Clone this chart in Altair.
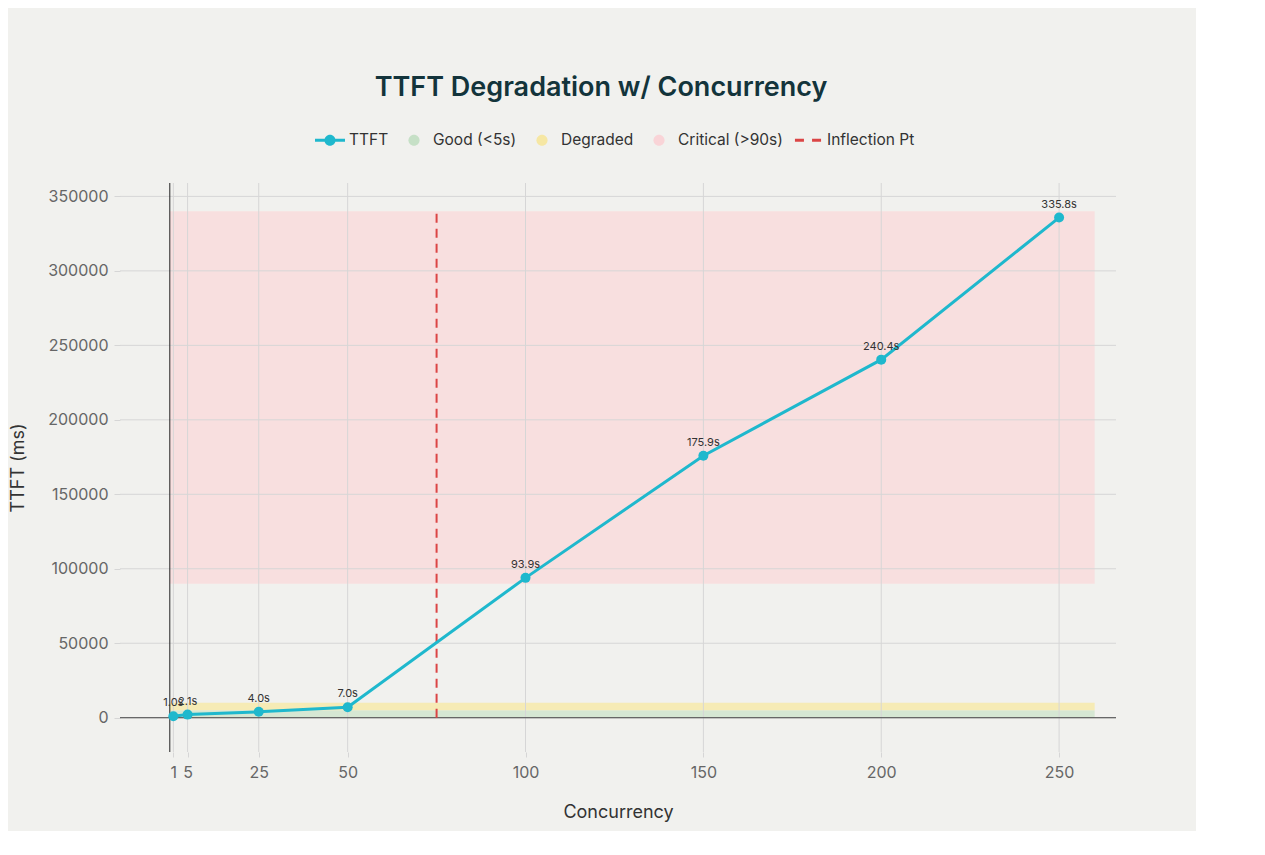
import altair as alt
import pandas as pd

# ---- data ----
concurrency = [1, 5, 25, 50, 100, 150, 200, 250]
ttft_ms = [1000, 2100, 4000, 7000, 93900, 175900, 240400, 335800]
point_labels = ["1.0s", "2.1s", "4.0s", "7.0s", "93.9s", "175.9s", "240.4s", "335.8s"]

zone_names = ["Good (<5s)", "Degraded", "Critical (>90s)"]
zone_y0 = [0, 5000, 90000]
zone_y1 = [5000, 10000, 340000]
zone_x0 = [0, 0, 0]
zone_x1 = [260, 260, 260]

inflection_x = [75]
inflection_y0 = [0]
inflection_y1 = [340000]

x_ticks = [1, 5, 25, 50, 100, 150, 200, 250]
y_ticks = [0, 50000, 100000, 150000, 200000, 250000, 300000, 350000]

legend_names = ["TTFT", "Good (<5s)", "Degraded", "Critical (>90s)", "Inflection Pt"]

# ---- styles ----
zone_colors = ["#d6e7d3", "#f6ebb5", "#f8dfdf"]
legend_colors = ["#1FB8CD", "#c6e0c6", "#f6e7a3", "#f9d4d7", "#DB4545"]
circle = "M-0.37,0a0.37,0.37 0 1,1 0.74,0a0.37,0.37 0 1,1 -0.74,0Z"
legend_shapes = [
    "M-1,-0.1H1V0.1H-1Z M-0.37,0a0.37,0.37 0 1,1 0.74,0a0.37,0.37 0 1,1 -0.74,0Z",
    circle, circle, circle,
    "M-0.87,-0.1H-0.27V0.1H-0.87Z M0.27,-0.1H0.87V0.1H0.27Z",
]
FONT = "Inter"
GRID = "#d6d6d6"

df = pd.DataFrame({"concurrency": concurrency, "ttft": ttft_ms, "label": point_labels})
zones = pd.DataFrame({"zone": zone_names, "x0": zone_x0, "x1": zone_x1, "y0": zone_y0, "y1": zone_y1})
infl = pd.DataFrame({"x": inflection_x, "y0": inflection_y0, "y1": inflection_y1})
xt = pd.DataFrame({"x": x_ticks})
yt = pd.DataFrame({"y": y_ticks})
leg = pd.DataFrame({"name": legend_names})

xs = alt.Scale(domain=[-14, 266], nice=False, zero=False)
ys = alt.Scale(domain=[-23000, 359000], nice=False, zero=False)

ax_x = alt.Axis(values=x_ticks, title="Concurrency", grid=False, domain=False,
                ticks=True, tickSize=5, tickColor=GRID, labelPadding=7, titlePadding=23)
ax_y = alt.Axis(values=y_ticks, title="TTFT (ms)", format="d", grid=False, domain=False,
                ticks=True, tickSize=6, tickColor=GRID, labelPadding=6, titlePadding=20)


def X(field):
    return alt.X(field, scale=xs, axis=ax_x)


def Y(field):
    return alt.Y(field, scale=ys, axis=ax_y)


zone_layers = [
    alt.Chart(zones).transform_filter(alt.datum.zone == name).mark_rect(color=col).encode(
        x=X("x0:Q"), x2="x1:Q", y=Y("y0:Q"), y2="y1:Q"
    )
    for name, col in zip(zone_names, zone_colors)
]

vgrid = alt.Chart(xt).mark_rule(color=GRID, strokeWidth=1).encode(x=X("x:Q"))
hgrid = alt.Chart(yt).mark_rule(color=GRID, strokeWidth=1).encode(y=Y("y:Q"))

zero_x = alt.Chart(pd.DataFrame({"x": [0]})).mark_rule(color="#222222", strokeWidth=1).encode(x=X("x:Q"))
zero_y = alt.Chart(pd.DataFrame({"y": [0]})).mark_rule(color="#444444", strokeWidth=1).encode(y=Y("y:Q"))

infl_layer = alt.Chart(infl).mark_rule(color="#DB4545", strokeWidth=2, strokeDash=[9, 6]).encode(
    x=X("x:Q"), y=Y("y0:Q"), y2="y1:Q"
)

line = alt.Chart(df).mark_line(color="#1FB8CD", strokeWidth=3).encode(
    x=X("concurrency:Q"), y=Y("ttft:Q")
)
pts = alt.Chart(df).mark_circle(color="#1FB8CD", size=100, opacity=1).encode(
    x=X("concurrency:Q"), y=Y("ttft:Q")
)
labels = alt.Chart(df).mark_text(dy=-13, fontSize=11, color="#333333", font=FONT).encode(
    x=X("concurrency:Q"), y=Y("ttft:Q"), text="label:N"
)

lg = alt.Legend(title=None, orient="none", legendX=195, legendY=-58, direction="horizontal",
                symbolSize=900, symbolStrokeWidth=0, symbolOpacity=1, symbolFillColor="#000000",
                labelFontSize=15.5, labelFont=FONT,
                labelColor="#333333", columnPadding=10, labelOffset=4)
legend_layer = alt.Chart(leg).mark_point(filled=True, opacity=0).encode(
    color=alt.Color("name:N", scale=alt.Scale(domain=legend_names, range=legend_colors), legend=lg),
    shape=alt.Shape("name:N", scale=alt.Scale(domain=legend_names, range=legend_shapes), legend=lg),
)

chart = alt.layer(
    *zone_layers, hgrid, vgrid, zero_x, zero_y, infl_layer, line, pts, labels, legend_layer
).properties(
    width=996,
    height=569,
    autosize=alt.AutoSizeParams(type="none"),
    padding={"left": 112, "top": 175, "right": 80, "bottom": 79},
    background="#F1F1EE",
    title=alt.TitleParams("TTFT Degradation w/ Concurrency", fontSize=27, fontWeight=600,
                          font=FONT, color="#13343B", anchor="middle", dx=-17, offset=23),
).configure_view(stroke=None).configure_axis(
    labelFont=FONT, labelFontSize=16, labelColor="#666666",
    titleFont=FONT, titleFontSize=18, titleFontWeight="normal", titleColor="#333333",
)

chart.save("out.html", embed_options={"renderer": "svg", "actions": False})
